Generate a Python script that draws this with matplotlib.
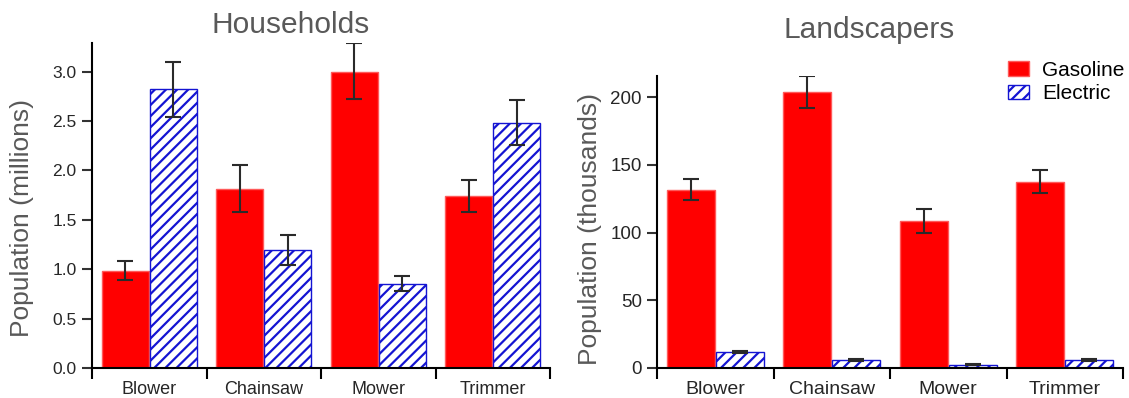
import numpy as np
import matplotlib.pyplot as plt
from matplotlib.patches import Patch

# ------------------------------------------------------------------ #
#   Data
# ------------------------------------------------------------------ #
categories = ["Blower", "Chainsaw", "Mower", "Trimmer"]

# Households (millions)
hh_gas = [0.98, 1.81, 3.00, 1.74]
hh_gas_lo = [0.89, 1.58, 2.72, 1.58]
hh_gas_hi = [1.08, 2.05, 3.29, 1.90]
hh_elec = [2.82, 1.19, 0.85, 2.48]
hh_elec_lo = [2.54, 1.04, 0.78, 2.26]
hh_elec_hi = [3.10, 1.35, 0.93, 2.71]

# Landscapers (thousands)
ls_gas = [131.5, 203.7, 108.2, 137.3]
ls_gas_lo = [123.7, 191.9, 99.4, 129.2]
ls_gas_hi = [139.2, 215.5, 117.1, 146.4]
ls_elec = [11.8, 5.7, 2.5, 5.7]
ls_elec_lo = [10.8, 4.9, 2.0, 4.9]
ls_elec_hi = [12.8, 6.4, 3.2, 6.6]

hh_ticks = [0.0, 0.5, 1.0, 1.5, 2.0, 2.5, 3.0]
ls_ticks = [0, 50, 100, 150, 200]

RED = "#ff0000"
RED_EDGE = "#ff5a5a"
BLUE = "#1414d2"
TITLE_GRAY = "#595959"
TICK_DARK = "#262626"

plt.rcParams["font.family"] = ["Liberation Sans", "DejaVu Sans"]
plt.rcParams["hatch.linewidth"] = 1.6


def yerr(vals, lo, hi):
    vals = np.asarray(vals)
    return np.vstack([vals - np.asarray(lo), np.asarray(hi) - vals])


def draw_panel(ax, gas, gas_lo, gas_hi, elec, elec_lo, elec_hi,
               ymax, yticks, fmt, ytick_size, xtick_size):
    x = np.arange(len(categories))
    w = 0.41
    off = 0.21
    err_kw = dict(ecolor="#2a2a2a", elinewidth=1.5, capsize=5.5, capthick=1.5)

    ax.bar(x - off, gas, w, color=RED, edgecolor=RED_EDGE, linewidth=1.0,
           yerr=yerr(gas, gas_lo, gas_hi), error_kw=err_kw, zorder=2)
    ax.bar(x + off, elec, w, color="white", edgecolor=BLUE, linewidth=1.0,
           hatch="///", yerr=yerr(elec, elec_lo, elec_hi), error_kw=err_kw,
           zorder=2)

    ax.set_xlim(-0.5, len(categories) - 0.5)
    ax.set_ylim(0, ymax)

    for side in ("top", "right"):
        ax.spines[side].set_visible(False)
    for side in ("left", "bottom"):
        ax.spines[side].set_linewidth(1.5)
        ax.spines[side].set_color("black")

    # category names at centres, tick marks only at the boundaries
    ax.set_xticks(x)
    ax.set_xticklabels(categories, fontsize=xtick_size, color=TICK_DARK)
    ax.tick_params(axis="x", which="major", length=0, pad=9)
    ax.set_xticks(np.arange(-0.5, len(categories)), minor=True)
    ax.tick_params(axis="x", which="minor", length=8, width=1.5,
                   direction="out", color="black")

    ax.set_yticks(yticks)
    ax.set_yticklabels([fmt.format(t) for t in yticks],
                       fontsize=ytick_size, color=TICK_DARK)
    ax.tick_params(axis="y", length=7, width=1.5, direction="out", pad=4,
                   color="#333333")


# ------------------------------------------------------------------ #
#   Figure layout (pixel positions)
# ------------------------------------------------------------------ #
W, H = 1129, 398
fig = plt.figure(figsize=(W / 100, H / 100), dpi=100)

ax1 = fig.add_axes([92 / W, 30 / H, 458 / W, 325 / H])
ax2 = fig.add_axes([657 / W, 30 / H, 466 / W, 292 / H])

draw_panel(ax1, hh_gas, hh_gas_lo, hh_gas_hi, hh_elec, hh_elec_lo, hh_elec_hi,
           3.29, hh_ticks, "{:.1f}", 12.5, 13)
draw_panel(ax2, ls_gas, ls_gas_lo, ls_gas_hi, ls_elec, ls_elec_lo, ls_elec_hi,
           215.5, ls_ticks, "{:.0f}", 13.5, 14)

fig.text(291 / W, 1 - 33 / H, "Households", ha="center", va="baseline",
         fontsize=21.5, color=TITLE_GRAY)
fig.text(869 / W, 1 - 38 / H, "Landscapers", ha="center", va="baseline",
         fontsize=21.5, color=TITLE_GRAY)

fig.text(22 / W, 1 - 218 / H, "Population (millions)", rotation=90,
         ha="center", va="center", fontsize=19, color=TITLE_GRAY)
fig.text(590 / W, 1 - 229 / H, "Population (thousands)", rotation=90,
         ha="center", va="center", fontsize=19, color=TITLE_GRAY)

handles = [
    Patch(facecolor=RED, edgecolor=RED_EDGE, linewidth=1.0, label="Gasoline"),
    Patch(facecolor="white", edgecolor=BLUE, linewidth=1.0, hatch="///",
          label="Electric"),
]
fig.legend(handles=handles, loc="upper left",
           bbox_to_anchor=(1008 / W, 1 - 61 / H), frameon=False,
           fontsize=15, handlelength=1.0, handleheight=0.7,
           handletextpad=0.65, labelspacing=0.2, borderpad=0,
           borderaxespad=0)

fig.savefig("out.png", dpi=100)
